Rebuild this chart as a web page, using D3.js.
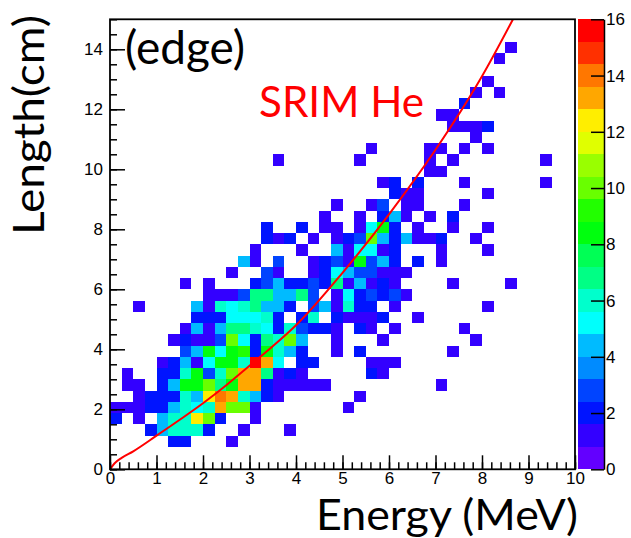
<!DOCTYPE html>
<html>
<head>
<meta charset="utf-8">
<script src="https://cdn.jsdelivr.net/npm/d3@7"></script>
<style>
  body { margin: 0; background: #fff; }
  .tick text { font-family: "Liberation Sans", Arial, sans-serif; font-size: 17px; fill: #000; }
  .big { font-family: Lato, "Open Sans", sans-serif; }
</style>
</head>
<body>
<svg id="chart" width="631" height="538"></svg>
<script>
// histogram binning (40 x 40)
const energyRange = [0, 10]   // MeV
const lengthRange = [0, 15]   // cm
const nEnergyBins = 40
const nLengthBins = 40

// counts per length bin: [lengthBin, [[energyBin, count], ...]]
const counts = [
  [37, [[34,1]]],
  [36, [[33,1]]],
  [34, [[32,1]]],
  [33, [[31,1],[33,1]]],
  [32, [[30,2]]],
  [31, [[28,1],[29,1]]],
  [30, [[29,1],[30,1],[31,1],[32,2]]],
  [29, [[31,1]]],
  [28, [[22,1],[27,1],[28,1],[30,1],[32,1]]],
  [27, [[14,1],[21,1],[27,1],[29,1],[37,1]]],
  [26, [[27,1],[28,1]]],
  [25, [[23,1],[24,2],[26,2],[30,1],[37,1]]],
  [24, [[24,2],[25,1],[26,1],[32,1]]],
  [23, [[19,1],[22,1],[23,3],[25,1],[26,1],[30,1]]],
  [22, [[18,1],[21,1],[23,2],[24,4],[25,1],[27,1],[29,2]]],
  [21, [[13,2],[16,2],[18,1],[19,1],[21,1],[22,5],[23,8],[24,2],[26,1],[29,1],[32,1]]],
  [20, [[13,2],[14,1],[15,2],[17,1],[19,1],[20,2],[21,3],[22,10],[23,4],[24,2],[25,4],[26,1],[27,1],[28,2],[31,1]]],
  [19, [[12,1],[16,1],[19,4],[20,1],[21,5],[22,5],[23,1],[24,2],[28,1],[32,1]]],
  [18, [[11,4],[12,1],[14,3],[17,1],[18,2],[19,3],[20,1],[21,8],[22,3],[23,4],[24,2],[26,2],[28,1]]],
  [17, [[10,1],[13,3],[14,1],[17,1],[18,2],[19,5],[20,4],[21,3],[22,3],[23,1],[24,1],[25,1]]],
  [16, [[6,1],[8,1],[12,2],[13,3],[14,4],[15,2],[16,2],[17,3],[18,2],[19,7],[20,1],[21,4],[22,1],[23,2],[24,1],[29,1],[34,1]]],
  [15, [[8,1],[9,1],[10,1],[11,3],[12,7],[13,7],[14,4],[15,4],[16,7],[17,3],[19,1],[20,5],[21,2],[22,3],[23,2],[24,3],[25,1]]],
  [14, [[2,1],[7,4],[8,1],[9,6],[10,5],[11,6],[12,7],[13,4],[14,4],[15,2],[17,3],[18,4],[19,1],[20,6],[21,2],[22,2],[24,1],[32,1]]],
  [13, [[7,2],[8,2],[9,2],[10,5],[11,5],[12,5],[13,6],[14,2],[16,2],[17,6],[19,2],[20,1],[21,1],[22,1],[23,2],[26,1]]],
  [12, [[6,1],[7,4],[8,1],[9,4],[10,7],[11,7],[12,6],[13,5],[14,2],[15,6],[16,3],[17,2],[18,2],[19,1],[21,2],[22,1],[24,1],[30,1]]],
  [11, [[5,1],[6,2],[7,1],[8,1],[9,3],[10,10],[11,5],[12,2],[13,7],[14,6],[15,10],[16,4],[19,1],[23,1],[31,1]]],
  [10, [[6,3],[7,4],[8,8],[9,5],[10,8],[11,9],[12,2],[13,8],[14,6],[15,4],[16,2],[19,1],[21,2],[29,1]]],
  [9,  [[4,1],[5,2],[6,4],[7,1],[8,5],[9,8],[10,8],[11,6],[12,16],[13,13],[14,5],[16,2],[17,2],[22,1],[23,1],[24,1]]],
  [8,  [[1,1],[4,2],[5,2],[6,6],[7,8],[8,3],[9,6],[10,10],[11,13],[12,13],[13,7],[14,1],[15,2],[16,1],[22,2],[23,1]]],
  [7,  [[1,1],[2,1],[4,2],[5,4],[6,8],[7,8],[8,10],[9,7],[10,8],[11,13],[12,13],[13,2],[14,1],[15,1],[16,1],[17,1],[18,1],[28,1]]],
  [6,  [[2,1],[3,2],[4,2],[5,2],[6,6],[7,4],[8,12],[9,14],[10,13],[11,6],[12,4],[13,2],[14,1],[21,1]]],
  [5,  [[0,1],[1,1],[2,1],[3,2],[4,2],[5,4],[6,6],[7,5],[8,6],[9,13],[10,10],[11,10],[12,1],[20,1]]],
  [4,  [[0,2],[2,1],[4,4],[5,6],[6,6],[7,12],[8,10],[9,2],[12,1]]],
  [3,  [[3,2],[4,4],[5,6],[6,6],[7,6],[8,2],[11,1],[15,1]]],
  [2,  [[5,2],[6,2],[10,1]]]
]

// SRIM He range curve
const srimEnergy = [0, 0.1, 0.25, 0.5, 1, 1.5, 2, 2.5, 3, 3.5, 4, 5, 6, 7, 8, 8.7]
const srimLength = [0, 0.2, 0.38, 0.6, 1.12, 1.65, 2.2, 2.8, 3.45, 4.1, 4.8, 6.55, 8.5, 10.65, 13.1, 15.1]

// ROOT palette 1, 20 contour levels
const zRange = [0, 16]
const palette = ["#6300ff","#3300ff","#0014ff","#0044ff","#008bff","#00bbff","#00fffc","#00ffcc",
  "#00ff85","#00ff55","#00ff0e","#22ff00","#69ff00","#99ff00","#e0ff00","#ffee00",
  "#ffa700","#ff7700","#ff3000","#ff0000"]

const svg = d3.select('#chart')
const padL = 110, padR = 575, padT = 19.3, padB = 469.3

const x = d3.scaleLinear().domain(energyRange).range([padL, padR])
const y = d3.scaleLinear().domain(lengthRange).range([padB, padT])
const color = d3.scaleQuantize().domain(zRange).range(palette)

const dE = (energyRange[1] - energyRange[0]) / nEnergyBins
const dL = (lengthRange[1] - lengthRange[0]) / nLengthBins

// flatten the cells
let cells = []
counts.forEach(row => {
  row[1].forEach(c => cells.push({ e: c[0], l: row[0], n: c[1] }))
})

svg.append('g')
  .selectAll('rect')
  .data(cells)
  .enter().append('rect')
  .attr('x', d => x(d.e * dE))
  .attr('y', d => y((d.l + 1) * dL))
  .attr('width', d => x((d.e + 1) * dE) - x(d.e * dE))
  .attr('height', d => y(d.l * dL) - y((d.l + 1) * dL))
  .attr('fill', d => color(d.n))
  .attr('shape-rendering', 'crispEdges')

// SRIM curve, clipped to the frame
svg.append('clipPath').attr('id', 'plotclip')
  .append('rect').attr('x', padL).attr('y', padT).attr('width', padR - padL).attr('height', padB - padT)

const line = d3.line()
  .x(d => x(d[0]))
  .y(d => y(d[1]))
  .curve(d3.curveMonotoneX)

svg.append('path')
  .datum(srimEnergy.map((e, i) => [e, srimLength[i]]))
  .attr('clip-path', 'url(#plotclip)')
  .attr('d', line)
  .attr('fill', 'none')
  .attr('stroke', '#ff0000')
  .attr('stroke-width', 2)

// axes, ROOT style ticks pointing inwards
// minor ticks (no labels)
svg.append('g')
  .attr('transform', `translate(0,${padB})`)
  .call(d3.axisBottom(x).tickValues(d3.range(0, 10.01, 0.2)).tickSize(-7))
  .call(g => g.select('.domain').remove())
  .call(g => g.selectAll('text').remove())
svg.append('g')
  .attr('transform', `translate(${padL},0)`)
  .call(d3.axisLeft(y).tickValues(d3.range(0, 15.01, 0.5)).tickSize(-7))
  .call(g => g.select('.domain').remove())
  .call(g => g.selectAll('text').remove())

// major ticks
svg.append('g')
  .attr('transform', `translate(0,${padB})`)
  .call(d3.axisBottom(x).ticks(10).tickSizeInner(-14).tickSizeOuter(0).tickPadding(3))
  .call(g => g.select('.domain').remove())
svg.append('g')
  .attr('transform', `translate(${padL},0)`)
  .call(d3.axisLeft(y).tickValues(d3.range(0, 15, 2)).tickSizeInner(-15).tickSizeOuter(0).tickPadding(7))
  .call(g => g.select('.domain').remove())

svg.selectAll('.tick line').attr('stroke', '#000').attr('stroke-width', 1.5)

// frame
svg.append('rect')
  .attr('x', padL).attr('y', padT)
  .attr('width', padR - padL).attr('height', padB - padT)
  .attr('fill', 'none').attr('stroke', '#000').attr('stroke-width', 1.8)

// colour bar
const zx0 = 578, zx1 = 604
const z = d3.scaleLinear().domain(zRange).range([padB, padT])
const levels = d3.range(palette.length)
const dz = (zRange[1] - zRange[0]) / palette.length
svg.append('g')
  .selectAll('rect')
  .data(levels)
  .enter().append('rect')
  .attr('x', zx0)
  .attr('width', zx1 - zx0)
  .attr('y', k => z((k + 1) * dz))
  .attr('height', k => z(k * dz) - z((k + 1) * dz))
  .attr('fill', k => palette[k])
  .attr('shape-rendering', 'crispEdges')

svg.append('g')
  .attr('transform', `translate(${zx1},0)`)
  .call(d3.axisRight(z).tickValues(d3.range(0, 16.01, 2)).tickSizeInner(-13).tickSizeOuter(0).tickPadding(2))
  .call(g => g.select('.domain').attr('stroke', '#000').attr('stroke-width', 1.5))
  .call(g => g.selectAll('.tick line').attr('stroke', '#000').attr('stroke-width', 1.5))

// titles
svg.append('text').attr('class', 'big')
  .attr('x', 125).attr('y', 64)
  .attr('font-size', 46)
  .text('(edge)')

svg.append('text').attr('class', 'big')
  .attr('x', 259).attr('y', 117)
  .attr('font-size', 42)
  .attr('fill', '#ff0000')
  .attr('textLength', 165).attr('lengthAdjust', 'spacingAndGlyphs')
  .text('SRIM He')

svg.append('text').attr('class', 'big')
  .attr('x', 316).attr('y', 530)
  .attr('font-size', 42)
  .attr('textLength', 262).attr('lengthAdjust', 'spacingAndGlyphs')
  .text('Energy (MeV)')

svg.append('text').attr('class', 'big')
  .attr('transform', 'translate(44,235) rotate(-90)')
  .attr('font-size', 43)
  .attr('textLength', 220).attr('lengthAdjust', 'spacingAndGlyphs')
  .text('Length(cm)')
</script>
</body>
</html>
